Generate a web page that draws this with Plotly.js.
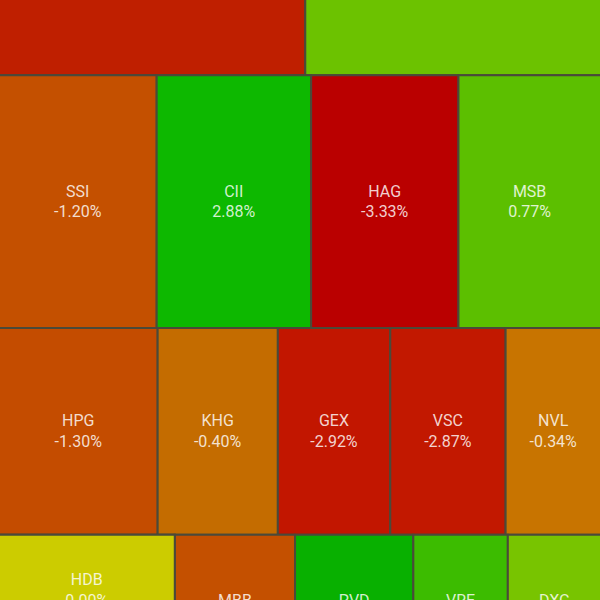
<!DOCTYPE html>
<html>
<head>
<meta charset="utf-8">
<script src="https://cdn.plot.ly/plotly-3.0.1.min.js"></script>
<style>
  html, body { margin: 0; padding: 0; overflow: hidden; background: #ffffff; }
  #chart { position: absolute; left: -1px; top: -1px; width: 602px; height: 688px; }
</style>
</head>
<body>
<div id="chart"></div>
<script>
// Row 1 (labels lie above the visible crop)
const row1Tickers = ['', ''];
const row1Changes = [null, null];
const row1Values  = [232, 224];
const row1Colors  = ['#bf1f00', '#6cc200'];

// Row 2
const row2Tickers = ['SSI', 'CII', 'HAG', 'MSB'];
const row2Changes = ['-1.20%', '2.88%', '-3.33%', '0.77%'];
const row2Values  = [396, 388, 370, 358];
const row2Colors  = ['#c45000', '#0db800', '#ba0000', '#5cbf00'];

// Row 3
const row3Tickers = ['HPG', 'KHG', 'GEX', 'VSC', 'NVL'];
const row3Changes = ['-1.30%', '-0.40%', '-2.92%', '-2.87%', '-0.34%'];
const row3Values  = [326, 247, 231, 237, 196];
const row3Colors  = ['#c44c00', '#c46c00', '#c21600', '#c21800', '#c87400'];

// Row 4 (cut off by the bottom of the picture)
const row4Tickers = ['HDB', 'MBB', 'PVD', 'VRE', 'DXG'];
const row4Changes = ['0.00%', null, null, null, null];
const row4Values  = [192, 182, 179, 143, 141];
const row4Colors  = ['#cccc00', '#c45000', '#08b000', '#3cbc00', '#78c400'];
// tile below HDB (outside the crop)
const hdbBelowValue = 74;
const hdbBelowColor = '#c44c00';

const ids = [], labels = [], parents = [], values = [], colors = [], texts = [];
function add(id, label, parent, value, color, text) {
  ids.push(id); labels.push(label); parents.push(parent);
  values.push(value); colors.push(color); texts.push(text);
}
function txt(t, c) {
  if (!t) return '';
  return t + '<br>' + (c === null ? '\u00a0' : c);
}
add('root', '', '', 0, '#444', '');
const rows = [
  [row1Tickers, row1Changes, row1Values, row1Colors],
  [row2Tickers, row2Changes, row2Values, row2Colors],
  [row3Tickers, row3Changes, row3Values, row3Colors],
  [row4Tickers, row4Changes, row4Values, row4Colors]
];
rows.forEach((r, ri) => {
  const rid = 'row' + ri;
  add(rid, '', 'root', 0, '#444', '');
  r[0].forEach((t, i) => {
    const cid = rid + '-' + i;
    if (ri === 3 && t === 'HDB') {
      add(cid + 'col', '', rid, 0, '#444', '');
      add(cid, t, cid + 'col', r[2][i], r[3][i], txt(t, r[1][i]));
      add(cid + 'below', '', cid + 'col', hdbBelowValue, hdbBelowColor, '');
    } else {
      add(cid, t || cid, rid, r[2][i], r[3][i], txt(t, r[1][i]));
    }
  });
});

const trace = {
  type: 'treemap',
  ids: ids, labels: labels, parents: parents, values: values,
  branchvalues: 'remainder',
  sort: false,
  text: texts,
  textinfo: 'text',
  textposition: 'middle center',
  textfont: { family: 'Roboto, sans-serif', size: 16, color: 'rgba(255,255,255,0.82)' },
  marker: {
    colors: colors,
    line: { color: '#4a4a3a', width: 2 },
    pad: { t: 0, l: 0, r: 0, b: 0 }
  },
  tiling: { packing: 'dice-slice', pad: 0 },
  pathbar: { visible: false },
  hoverinfo: 'none'
};

Plotly.newPlot('chart', [trace], {
  width: 602, height: 688,
  margin: { l: 0, r: 0, t: 0, b: 0 },
  paper_bgcolor: '#ffffff',
  showlegend: false
}, { staticPlot: true, displayModeBar: false });
</script>
</body>
</html>
